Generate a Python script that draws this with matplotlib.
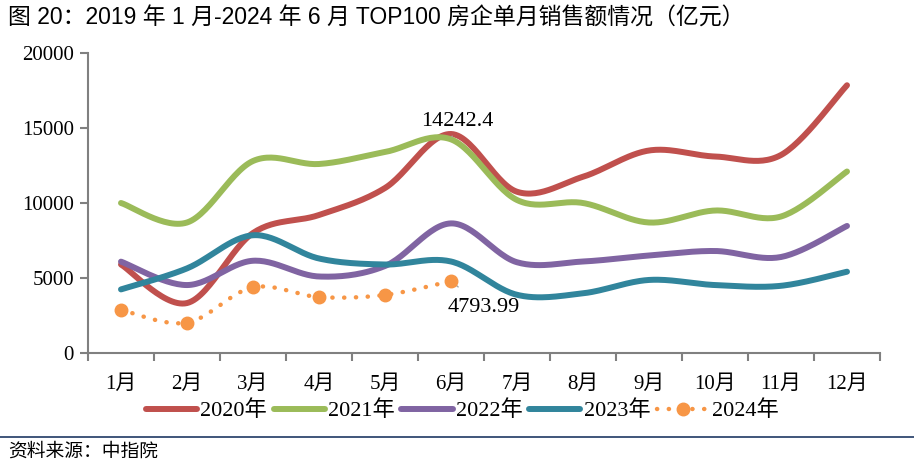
import numpy as np
import matplotlib
matplotlib.use("Agg")
import matplotlib.pyplot as plt
from matplotlib.lines import Line2D

months = ["1月", "2月", "3月", "4月", "5月", "6月", "7月", "8月", "9月", "10月", "11月", "12月"]
sales_2020 = [5900, 3330, 8000, 9200, 11000, 14600, 10750, 11750, 13500, 13100, 13200, 17850]
sales_2021 = [10000, 8700, 12800, 12600, 13400, 14242.4, 10200, 10000, 8700, 9500, 9100, 12100]
sales_2022 = [6090, 4530, 6150, 5100, 5800, 8640, 6050, 6100, 6500, 6800, 6400, 8470]
sales_2023 = [4240, 5640, 7850, 6300, 5900, 6100, 3880, 3980, 4870, 4530, 4480, 5420]
sales_2024 = [2870, 2020, 4380, 3730, 3870, 4793.99]

series = [("2020年", sales_2020, "#c0504d"), ("2021年", sales_2021, "#9bbb59"),
          ("2022年", sales_2022, "#8064a2"), ("2023年", sales_2023, "#31859c")]
color_2024 = "#f79646"

SERIF = ["Liberation Serif", "Noto Sans CJK SC"]
SANS = ["Liberation Sans", "Noto Sans CJK SC"]


def smooth(x, y, steps=30):
    # Excel-style smoothed line: cubic Bezier segments, control points at 1/6 of neighbour slope
    x = np.asarray(x, float)
    y = np.asarray(y, float)
    n = len(x)
    xs, ys = [], []
    for i in range(n - 1):
        p0 = np.array([x[max(i - 1, 0)], y[max(i - 1, 0)]])
        p1 = np.array([x[i], y[i]])
        p2 = np.array([x[i + 1], y[i + 1]])
        p3 = np.array([x[min(i + 2, n - 1)], y[min(i + 2, n - 1)]])
        c1 = p1 + (p2 - p0) / 6
        c2 = p2 - (p3 - p1) / 6
        t = np.linspace(0, 1, steps)[:, None]
        b = (1 - t) ** 3 * p1 + 3 * (1 - t) ** 2 * t * c1 + 3 * (1 - t) * t ** 2 * c2 + t ** 3 * p2
        xs.extend(b[:, 0])
        ys.extend(b[:, 1])
    return np.array(xs), np.array(ys)


fig = plt.figure(figsize=(9.14, 4.65), dpi=100)
ax = fig.add_axes([88 / 914, 1 - 353 / 465, 792 / 914, 300 / 465])

x = np.arange(len(months))
for label, vals, color in series:
    sx, sy = smooth(x, vals)
    ax.plot(sx, sy, color=color, lw=4.3, solid_capstyle="round", zorder=3)

x24 = np.arange(len(sales_2024))
sx, sy = smooth(x24, sales_2024)
ax.plot(sx, sy, color=color_2024, lw=3.2, linestyle=(0, (0.05, 2.6)), dash_capstyle="round", zorder=4)
ax.plot(x24, sales_2024, "o", color=color_2024, ms=9, zorder=5)

# data labels
ax.annotate("14242.4", xy=(5, sales_2021[5]), xytext=(5.1, 15450), ha="center", va="center",
            fontsize=16, family=SERIF,
            arrowprops=dict(arrowstyle="-", color="#a6a6a6", lw=1))
ax.annotate("4793.99", xy=(5, sales_2024[5]), xytext=(5.5, 3000), ha="center", va="center",
            fontsize=16, family=SERIF,
            arrowprops=dict(arrowstyle="-", color="#a6a6a6", lw=1, shrinkB=0, shrinkA=10))

ax.set_xlim(-0.5, 11.5)
ax.set_ylim(0, 20000)
ax.set_yticks(range(0, 20001, 5000))
ax.set_xticks(np.arange(-0.5, 12, 1))
ax.set_xticklabels([])
ax.set_xticks(x, minor=True)
ax.set_xticklabels(months, minor=True, fontsize=15, family=SERIF)
ax.tick_params(axis="x", which="minor", length=0, pad=16)
ax.tick_params(axis="x", which="major", length=6, width=1.5, color="#808080")
ax.tick_params(axis="y", length=6, width=1.5, color="#808080", pad=4)
for lab in ax.get_yticklabels():
    lab.set_fontsize(15)
    lab.set_family(SERIF)
for side in ["top", "right"]:
    ax.spines[side].set_visible(False)
for side in ["left", "bottom"]:
    ax.spines[side].set_color("#808080")
    ax.spines[side].set_linewidth(1.5)

handles = [Line2D([], [], color=c, lw=4.3, solid_capstyle="round") for _, _, c in series]
handles.append(Line2D([], [], color=color_2024, lw=3.2, linestyle=(0, (0.05, 2.6)),
                      dash_capstyle="round", marker="o", ms=9))
labels = [s[0] for s in series] + ["2024年"]
fig.legend(handles, labels, loc="center", bbox_to_anchor=(462 / 914, 1 - 411 / 465), ncol=5,
           frameon=False, prop={"family": SERIF, "size": 16}, handlelength=2.3,
           handletextpad=0.15, columnspacing=0.3)

fig.text(8 / 914, 1 - 18 / 465, "图 20：2019 年 1 月-2024 年 6 月 TOP100 房企单月销售额情况（亿元）",
         fontsize=16.5, fontweight="medium", family=SANS, va="center", ha="left")
fig.add_artist(Line2D([0, 1], [1 - 437 / 465, 1 - 437 / 465], color="#1f3864", lw=1.2))
fig.text(8 / 914, 1 - 452 / 465, "资料来源：中指院", fontsize=13.5, family=SERIF, va="center", ha="left")

fig.savefig("out.png", dpi=100)
